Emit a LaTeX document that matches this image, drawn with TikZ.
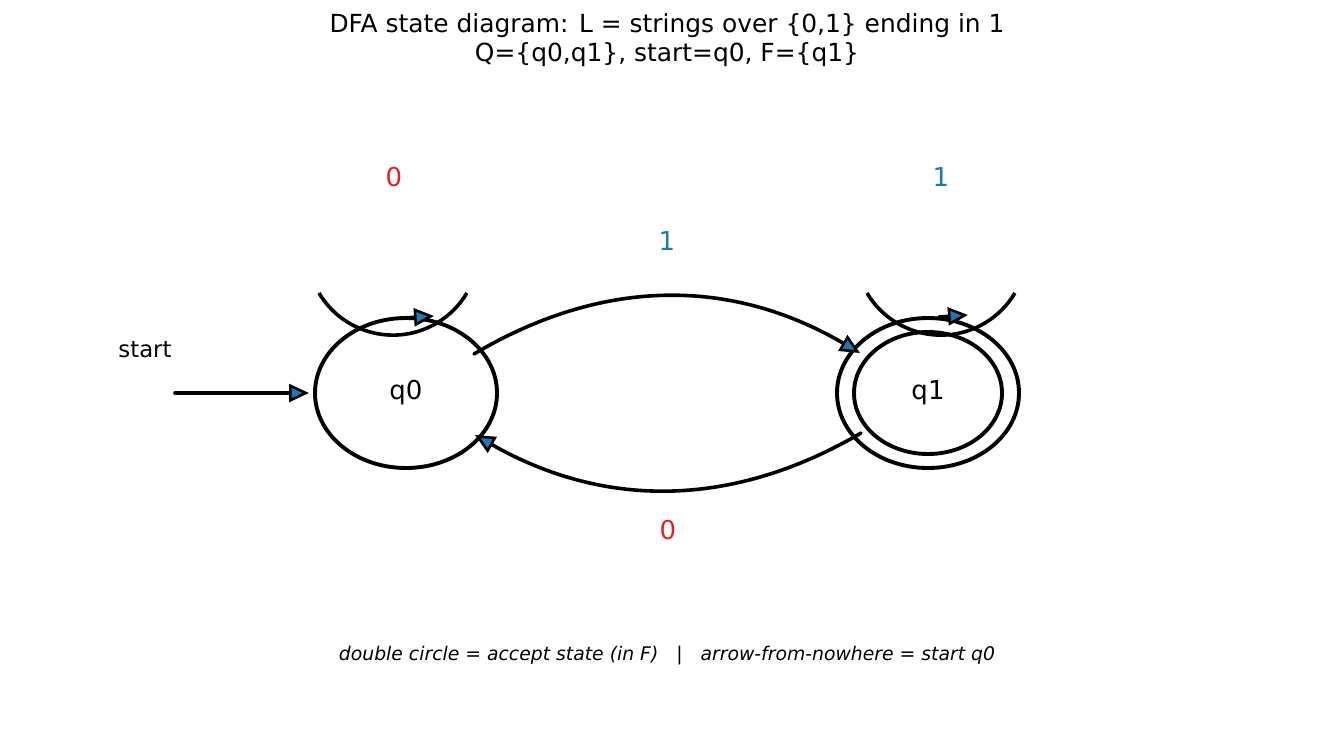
\documentclass[tikz,border=0pt]{standalone}
\usepackage{fontspec}
\setmainfont{DejaVu Sans}
\usetikzlibrary{arrows.meta,shapes.geometric}
\definecolor{mplblue}{HTML}{1F77B4}
\definecolor{mplred}{HTML}{D62728}
\tikzset{
  edge/.style={line width=3.6pt, line cap=round, -{Triangle[length=20pt,width=18pt,fill=mplblue,line width=2.6pt]}},
  loopline/.style={line width=3.6pt},
  statebox/.style={ellipse, draw, line width=3.9pt, minimum width=182pt, minimum height=150pt, inner sep=0pt, font=\fontsize{26}{30}\selectfont},
  inner/.style={ellipse, draw, line width=3.9pt, minimum width=148pt, minimum height=122pt, inner sep=0pt, font=\fontsize{26}{30}\selectfont},
  lab/.style={font=\fontsize{26}{30}\selectfont},
}
\begin{document}
\begin{tikzpicture}[x=1pt,y=-1pt]
\useasboundingbox (0,0) rectangle (1335,729);
% title
\node[align=center, font=\fontsize{24.9}{28.5}\selectfont] (title) at (667,40) {DFA state diagram: L = strings over \{0,1\} ending in 1\\Q=\{q0,q1\}, start=q0, F=\{q1\}};
% states
\node[statebox] (q0) at (406,393) {q0};
\node[statebox] (q1) at (928,393) {};
\node[inner] (q1i) at (928,393) {q1};
% start
\coordinate (s0) at (175,393);
\coordinate (s1) at (309,393);
\node[font=\fontsize{22.8}{26}\selectfont] (startlab) at (145,350) {start};
\draw[edge] (s0) -- (s1);
% self loop q0
\coordinate (l0a) at (319,293);
\draw[loopline] (l0a) arc[start angle=149.3, end angle=30.7, radius=86];
\coordinate (l0s) at (403,318);
\coordinate (l0e) at (434,316);
\draw[edge] (l0s) -- (l0e);
\node[lab, text=mplred] (lab00) at (394,177) {0};
% self loop q1
\coordinate (l1a) at (867,293);
\draw[loopline] (l1a) arc[start angle=149.3, end angle=30.7, radius=86];
\coordinate (l1s) at (939,317);
\coordinate (l1e) at (968,315);
\draw[edge] (l1s) -- (l1e);
\node[lab, text=mplblue] (lab11) at (941,177) {1};
% q0 -> q1
\coordinate (a0) at (474,354);
\coordinate (a1) at (860,353);
\draw[edge] (a0) .. controls (602,278) and (730,277) .. (a1);
\node[lab, text=mplblue] (lab01) at (667,241) {1};
% q1 -> q0
\coordinate (b0) at (861,433);
\coordinate (b1) at (475,435);
\draw[edge] (b0) .. controls (733,508) and (605,509) .. (b1);
\node[lab, text=mplred] (lab10) at (668,530) {0};
% caption
\node[font=\fontsize{18.8}{22}\selectfont\itshape] (cap) at (667,656) {double circle = accept state (in F)\ \ \ |\ \ \ arrow-from-nowhere = start q0};
\end{tikzpicture}
\end{document}
